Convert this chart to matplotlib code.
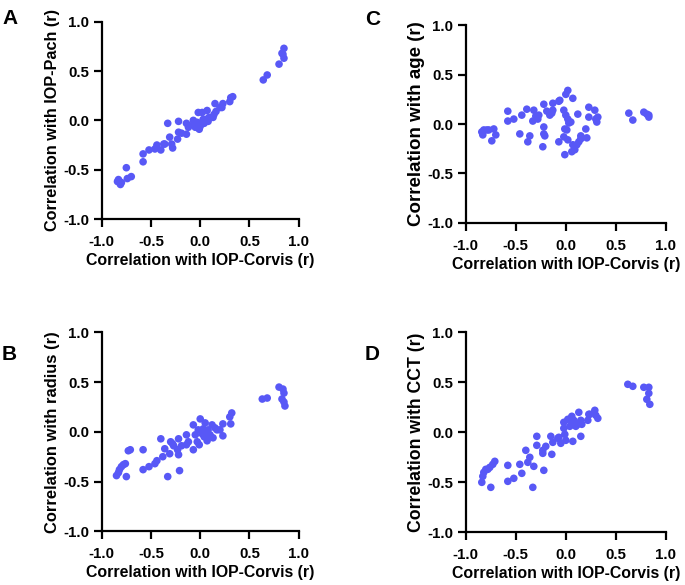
import numpy as np
import matplotlib.pyplot as plt

plt.rcParams['font.family'] = ['Liberation Sans', 'DejaVu Sans']
plt.rcParams['font.weight'] = 'bold'

# panel A: IOP-Corvis vs IOP-Pach
a_x = [-0.84, -0.81, -0.80, -0.83, -0.75, -0.74, -0.70, -0.58, -0.58, -0.52,
       -0.46, -0.44, -0.40, -0.37, -0.36, -0.33, -0.31, -0.29, -0.28, -0.22,
       -0.23, -0.22, -0.19, -0.14, -0.14, -0.12, -0.07, -0.07, -0.05, -0.03,
       -0.02, -0.01, 0.00, 0.02, 0.03, 0.04, 0.06, 0.07, 0.08, 0.09,
       0.13, 0.14, 0.15, 0.16, 0.20, 0.22, 0.23, 0.30, 0.31, 0.33,
       0.64, 0.68, 0.80, 0.83, 0.85, 0.85, 0.84]
a_y = [-0.62, -0.65, -0.63, -0.60, -0.48, -0.59, -0.57, -0.34, -0.42, -0.30,
       -0.29, -0.25, -0.30, -0.24, -0.24, -0.03, -0.17, -0.24, -0.28, -0.01,
       -0.19, -0.12, -0.13, -0.14, -0.03, -0.07, 0.00, -0.04, -0.07, -0.02,
       0.08, -0.09, -0.06, 0.08, 0.01, -0.03, 0.01, 0.10, -0.01, 0.03,
       0.03, 0.06, 0.17, 0.09, 0.13, 0.13, 0.17, 0.19, 0.23, 0.24,
       0.41, 0.46, 0.57, 0.68, 0.63, 0.73, 0.67]

# panel C: IOP-Corvis vs age
c_x = [-0.84, -0.83, -0.82, -0.79, -0.77, -0.74, -0.72, -0.70, -0.58, -0.58,
       -0.52, -0.46, -0.44, -0.39, -0.38, -0.36, -0.33, -0.32, -0.30, -0.28,
       -0.27, -0.23, -0.22, -0.22, -0.21, -0.22, -0.19, -0.16, -0.14, -0.13,
       -0.13, -0.07, -0.06, -0.07, -0.02, -0.02, -0.01, 0.00, 0.02, 0.00,
       0.01, 0.02, 0.03, 0.05, -0.01, 0.02, 0.06, 0.07, 0.07, 0.09,
       0.11, 0.12, 0.13, 0.15, 0.15, 0.20, 0.21, 0.23, 0.23, 0.29,
       0.30, 0.31, 0.32, 0.63, 0.67, 0.78, 0.81, 0.83, 0.83]
c_y = [-0.08, -0.11, -0.06, -0.06, -0.06, -0.17, -0.05, -0.11, 0.13, 0.03,
       0.05, -0.10, 0.09, 0.15, -0.18, -0.12, 0.03, 0.14, 0.08, 0.05,
       0.09, -0.23, -0.03, -0.10, -0.12, 0.20, 0.13, 0.09, 0.11, 0.21,
       0.14, 0.23, 0.24, -0.18, -0.13, 0.14, -0.05, 0.30, 0.34, 0.09,
       -0.06, 0.05, 0.01, 0.02, -0.31, -0.16, -0.28, 0.26, -0.21, -0.26,
       -0.21, 0.10, -0.18, -0.15, -0.12, -0.05, -0.14, 0.17, 0.07, 0.14,
       0.05, 0.02, 0.07, 0.11, 0.04, 0.12, 0.10, 0.09, 0.07]

# panel B: IOP-Corvis vs radius
b_x = [-0.85, -0.83, -0.82, -0.80, -0.78, -0.76, -0.75, -0.73, -0.71, -0.58,
       -0.58, -0.52, -0.46, -0.44, -0.40, -0.38, -0.36, -0.33, -0.31, -0.30,
       -0.28, -0.27, -0.23, -0.22, -0.22, -0.21, -0.19, -0.14, -0.14, -0.12,
       -0.07, -0.07, -0.05, -0.03, -0.02, 0.00, -0.01, 0.02, 0.03, 0.04,
       0.05, 0.07, 0.07, 0.08, 0.10, 0.12, 0.13, 0.15, 0.17, 0.20,
       0.23, 0.23, 0.30, 0.31, 0.32, 0.63, 0.68, 0.80, 0.83, 0.84,
       0.85, 0.85, 0.86]
b_y = [-0.44, -0.41, -0.38, -0.35, -0.33, -0.32, -0.45, -0.19, -0.18, -0.18,
       -0.38, -0.35, -0.32, -0.29, -0.07, -0.25, -0.17, -0.45, -0.22, -0.10,
       -0.12, -0.14, -0.18, -0.07, -0.23, -0.39, -0.14, -0.13, -0.03, -0.10,
       0.07, -0.18, -0.03, -0.10, 0.02, 0.13, -0.13, -0.02, 0.03, -0.05,
       0.09, -0.09, -0.03, 0.02, -0.03, 0.07, -0.06, 0.04, 0.02, 0.02,
       -0.04, 0.08, 0.15, 0.08, 0.19, 0.33, 0.34, 0.45, 0.33, 0.43,
       0.39, 0.30, 0.26]

# panel D: IOP-Corvis vs CCT
d_x = [-0.84, -0.83, -0.82, -0.80, -0.78, -0.76, -0.75, -0.73, -0.71, -0.58,
       -0.58, -0.52, -0.46, -0.44, -0.40, -0.38, -0.36, -0.33, -0.32, -0.29,
       -0.29, -0.23, -0.23, -0.22, -0.20, -0.15, -0.14, -0.13, -0.08, -0.07,
       -0.05, -0.02, -0.02, -0.01, 0.00, 0.02, 0.04, 0.06, 0.07, 0.07,
       0.08, 0.10, 0.12, 0.13, 0.15, 0.15, 0.16, 0.22, 0.23, 0.24,
       0.29, 0.30, 0.32, 0.62, 0.67, 0.78, 0.83, 0.83, 0.81, 0.84]
d_y = [-0.50, -0.44, -0.40, -0.37, -0.37, -0.35, -0.55, -0.32, -0.29, -0.33,
       -0.49, -0.46, -0.32, -0.41, -0.18, -0.30, -0.25, -0.55, -0.34, -0.04,
       -0.13, -0.21, -0.18, -0.38, -0.14, -0.04, -0.22, -0.10, -0.06, -0.05,
       -0.11, 0.04, 0.10, -0.02, -0.08, 0.13, 0.06, 0.16, -0.09, 0.10,
       0.12, 0.06, 0.08, 0.20, -0.04, 0.12, 0.08, 0.12, 0.18, 0.18,
       0.22, 0.17, 0.14, 0.48, 0.46, 0.45, 0.45, 0.39, 0.33, 0.28]

ticks = [-1.0, -0.5, 0.0, 0.5, 1.0]
tick_labels = ['-1.0', '-0.5', '0.0', '0.5', '1.0']
x_label = 'Correlation with IOP-Corvis (r)'

# letter, x, y, y label, y label size, axes rect, letter position
panels = [
    ('A', a_x, a_y, 'Correlation with IOP-Pach (r)', 11.7, [0.1485, 0.6256, 0.2876, 0.3373], (0.003, 0.985)),
    ('C', c_x, c_y, 'Correlation with age (r)', 13.5, [0.680, 0.619, 0.292, 0.338], (0.533, 0.983)),
    ('B', b_x, b_y, 'Correlation with radius (r)', 11.9, [0.1485, 0.0918, 0.2876, 0.340], (0.003, 0.410)),
    ('D', d_x, d_y, 'Correlation with CCT (r)', 12.7, [0.680, 0.090, 0.292, 0.342], (0.533, 0.410)),
]

fig = plt.figure(figsize=(6.85, 5.85), dpi=100)

for letter, xs, ys, ylab, ysize, rect, lpos in panels:
    ax = fig.add_axes(rect)
    ax.scatter(xs, ys, s=30, color='#5858F6', edgecolors='none', clip_on=False)
    ax.set_xlim(-1, 1)
    ax.set_ylim(-1, 1)
    ax.set_xticks(ticks)
    ax.set_xticklabels(tick_labels)
    ax.set_yticks(ticks)
    ax.set_yticklabels(tick_labels)
    ax.spines['top'].set_visible(False)
    ax.spines['right'].set_visible(False)
    ax.spines['left'].set_linewidth(1.6)
    ax.spines['bottom'].set_linewidth(1.6)
    ax.tick_params(direction='out', length=6, width=1.6, labelsize=10.8)
    ax.tick_params(axis='x', pad=5.5)
    ax.tick_params(axis='y', pad=3)
    ax.set_xlabel(x_label, fontsize=11.4, fontweight='bold', labelpad=3)
    ax.set_ylabel(ylab, fontsize=ysize, fontweight='bold', labelpad=2)
    fig.text(lpos[0], lpos[1], letter, fontsize=15, fontweight='bold', va='top', ha='left')

fig.savefig('out.png', dpi=100)
